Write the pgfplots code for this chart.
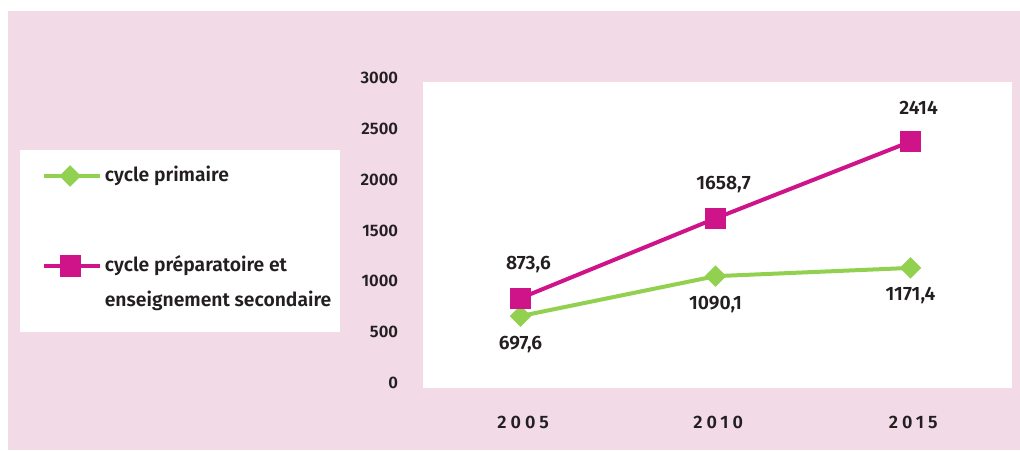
\documentclass[border=0pt]{standalone}
\usepackage{pgfplots}
\pgfplotsset{compat=1.18}
\usepackage{fontspec}
\setmainfont{Fira Sans}[BoldFont={Fira Sans SemiBold}]
\definecolor{bgpink}{HTML}{F2DAE7}
\definecolor{cGreen}{HTML}{92D050}
\definecolor{cMag}{HTML}{CF1389}
\definecolor{txt}{HTML}{231F20}
\newcommand{\lab}{\fontsize{12.5}{15}\selectfont\bfseries\color{txt}}
\newcommand{\biglab}{\fontsize{14.5}{17}\selectfont\bfseries\color{txt}}

\begin{document}
\begin{tikzpicture}
\path[use as bounding box] (0pt,0pt) rectangle (765pt,-337.5pt);
\fill[white] (0pt,0pt) rectangle (765pt,-337.5pt);
\fill[bgpink] (6pt,-8pt) rectangle (765pt,-337.5pt);
% legend box
\fill[white] (15pt,-112.5pt) rectangle (255pt,-249pt);
\begin{axis}[
    at={(317.25pt,-291pt)}, anchor=south west,
    scale only axis, width=441.75pt, height=229.5pt,
    xmin=-0.5, xmax=2.52, ymin=-10, ymax=3000,
    axis background/.style={fill=white},
    axis line style={draw=none},
    major tick length=0pt,
    xtick={0,1,2}, xticklabels={2005,2010,2015},
    ytick={0,500,1000,1500,2000,2500,3000},
    /pgf/number format/1000 sep={},
    /pgf/number format/assume math mode=true,
    yticklabel style={font=\lab, anchor=east, inner sep=0pt, xshift=-18.5pt, yshift=3pt},
    xticklabel style={font=\fontsize{13.5}{16}\selectfont\bfseries\color{txt}\addfontfeature{LetterSpace=22},
        anchor=center, inner sep=0pt, yshift=-25.5pt, xshift=2pt},
    clip=false,
    legend style={at={(-0.647,0.735)}, anchor=north west, draw=none, fill=none,
        font=\biglab, inner sep=0pt, row sep=50pt,
        cells={anchor=base west}},
    legend image code/.code={
        \draw[#1, line width=3pt] (0pt,4.2pt) -- (42pt,4.2pt);
        \draw[#1, only marks] plot coordinates {(19.5pt,4.2pt)};
    },
    point meta=explicit symbolic,
    nodes near coords,
    every node near coord/.append style={font=\biglab, text=txt, anchor=center},
]
\addplot[color=cGreen, line width=3pt, mark=square*, mark size=4.2pt,
    mark options={rotate=45},
    every node near coord/.append style={yshift=-21pt}]
  coordinates {(0,697.6) [697,6] (1,1090.1) [1090,1] (2,1171.4) [1171,4]};
\addlegendentry{cycle primaire}
\addplot[color=cMag, line width=3pt, mark=square*, mark size=6.5pt,
    every node near coord/.append style={yshift=25pt, xshift=6pt}]
  coordinates {(0,873.6) [873,6] (1,1658.7) [1658,7] (2,2414) [2414]};
\addlegendentry{\begin{tabular}[t]{@{}l@{}}cycle préparatoire et\\[9pt]enseignement secondaire\end{tabular}}
\end{axis}
\end{tikzpicture}
\end{document}
